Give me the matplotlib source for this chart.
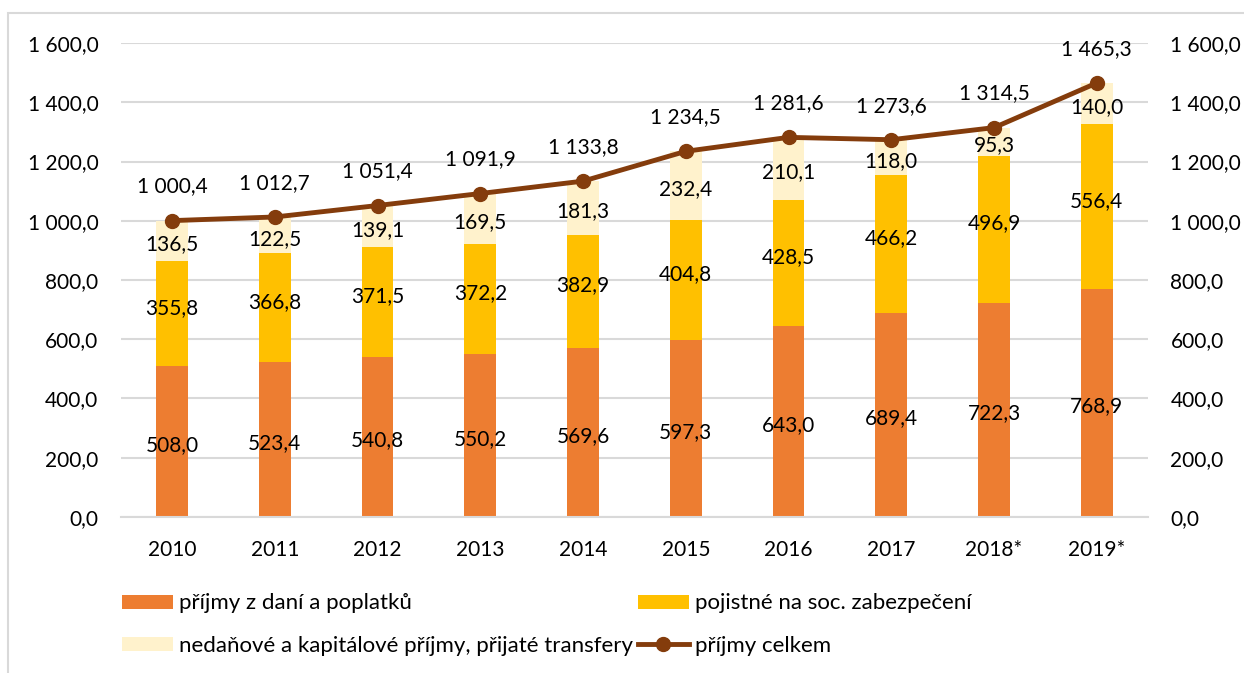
import matplotlib.pyplot as plt
from matplotlib.patches import Rectangle
from matplotlib.lines import Line2D

plt.rcParams['font.family'] = ['Lato', 'DejaVu Sans']

# data
years = ["2010", "2011", "2012", "2013", "2014", "2015", "2016", "2017", "2018*", "2019*"]
dane = [508.0, 523.4, 540.8, 550.2, 569.6, 597.3, 643.0, 689.4, 722.3, 768.9]
pojistne = [355.8, 366.8, 371.5, 372.2, 382.9, 404.8, 428.5, 466.2, 496.9, 556.4]
nedanove = [136.5, 122.5, 139.1, 169.5, 181.3, 232.4, 210.1, 118.0, 95.3, 140.0]
celkem = [1000.4, 1012.7, 1051.4, 1091.9, 1133.8, 1234.5, 1281.6, 1273.6, 1314.5, 1465.3]

c_dane = "#ED7D31"
c_poj = "#FFC000"
c_ned = "#FFF2CC"
c_line = "#843C0C"


def fmt(v):
    # czech style: space as thousands separator, comma decimal
    s = f"{v:,.1f}"
    return s.replace(",", " ").replace(".", ",")


fig = plt.figure(figsize=(12.44, 6.73), dpi=100)
ax = fig.add_axes([0.097, 0.232, 0.826, 0.704])

x = list(range(len(years)))
w = 0.31
b1 = ax.bar(x, dane, w, color=c_dane, zorder=2)
bottom2 = dane
b2 = ax.bar(x, pojistne, w, bottom=bottom2, color=c_poj, zorder=2)
bottom3 = [a + b for a, b in zip(dane, pojistne)]
b3 = ax.bar(x, nedanove, w, bottom=bottom3, color=c_ned, zorder=2)
ln, = ax.plot(x, celkem, color=c_line, lw=3.5, marker="o", ms=10, zorder=4)

fs = 15
for i in x:
    ax.text(i, dane[i] / 2 - 12, fmt(dane[i]), ha="center", va="center", fontsize=fs, zorder=5)
    ax.text(i, bottom2[i] + pojistne[i] / 2 + 20, fmt(pojistne[i]), ha="center", va="center", fontsize=fs, zorder=5)
    ax.text(i, bottom3[i] + nedanove[i] / 2 - 12, fmt(nedanove[i]), ha="center", va="center", fontsize=fs, zorder=5)
    ax.text(i, celkem[i] + 115, fmt(celkem[i]), ha="center", va="center", fontsize=fs, zorder=5)

ax.set_xlim(-0.5, len(years) - 0.5)
ax.set_ylim(0, 1600)
yt = [0, 200, 400, 600, 800, 1000, 1200, 1400, 1600]
ax.set_yticks(yt)
ax.set_yticklabels([fmt(v) for v in yt], fontsize=fs)
ax.set_xticks(x)
ax.set_xticklabels(years, fontsize=fs)
ax.tick_params(axis="y", length=0, pad=16)
ax.tick_params(axis="x", length=0, pad=17)
ax.grid(axis="y", color="#D9D9D9", lw=1.5, zorder=0)
for s in ax.spines.values():
    s.set_visible(False)
ax.spines["bottom"].set_visible(True)
ax.spines["bottom"].set_color("#D9D9D9")
ax.spines["bottom"].set_linewidth(1.5)

ax2 = ax.twinx()
ax2.set_ylim(0, 1600)
ax2.set_yticks(yt)
ax2.set_yticklabels([fmt(v) for v in yt], fontsize=fs)
ax2.tick_params(axis="y", length=0, pad=16)
for s in ax2.spines.values():
    s.set_visible(False)

# legend
handles = [b1, b3, b2, Line2D([], [], color=c_line, lw=3.5, marker="o", ms=10)]
labels = ["příjmy z daní a poplatků", "nedaňové a kapitálové příjmy, přijaté transfery",
          "pojistné na soc. zabezpečení", "příjmy celkem"]
fig.legend(handles, labels, ncol=2, frameon=False, fontsize=16,
           loc="upper left", bbox_to_anchor=(0.082, 0.148), bbox_transform=fig.transFigure,
           handlelength=2.3, handleheight=0.6, handletextpad=0.27, columnspacing=0.2,
           labelspacing=1.0)

# outer frame
fig.patches.append(Rectangle((8 / 1244, -0.01), 1.1, 1 - 13 / 673 + 0.01, transform=fig.transFigure,
                             fill=False, edgecolor="#D9D9D9", lw=1.5))

fig.savefig("out.png", dpi=100)
